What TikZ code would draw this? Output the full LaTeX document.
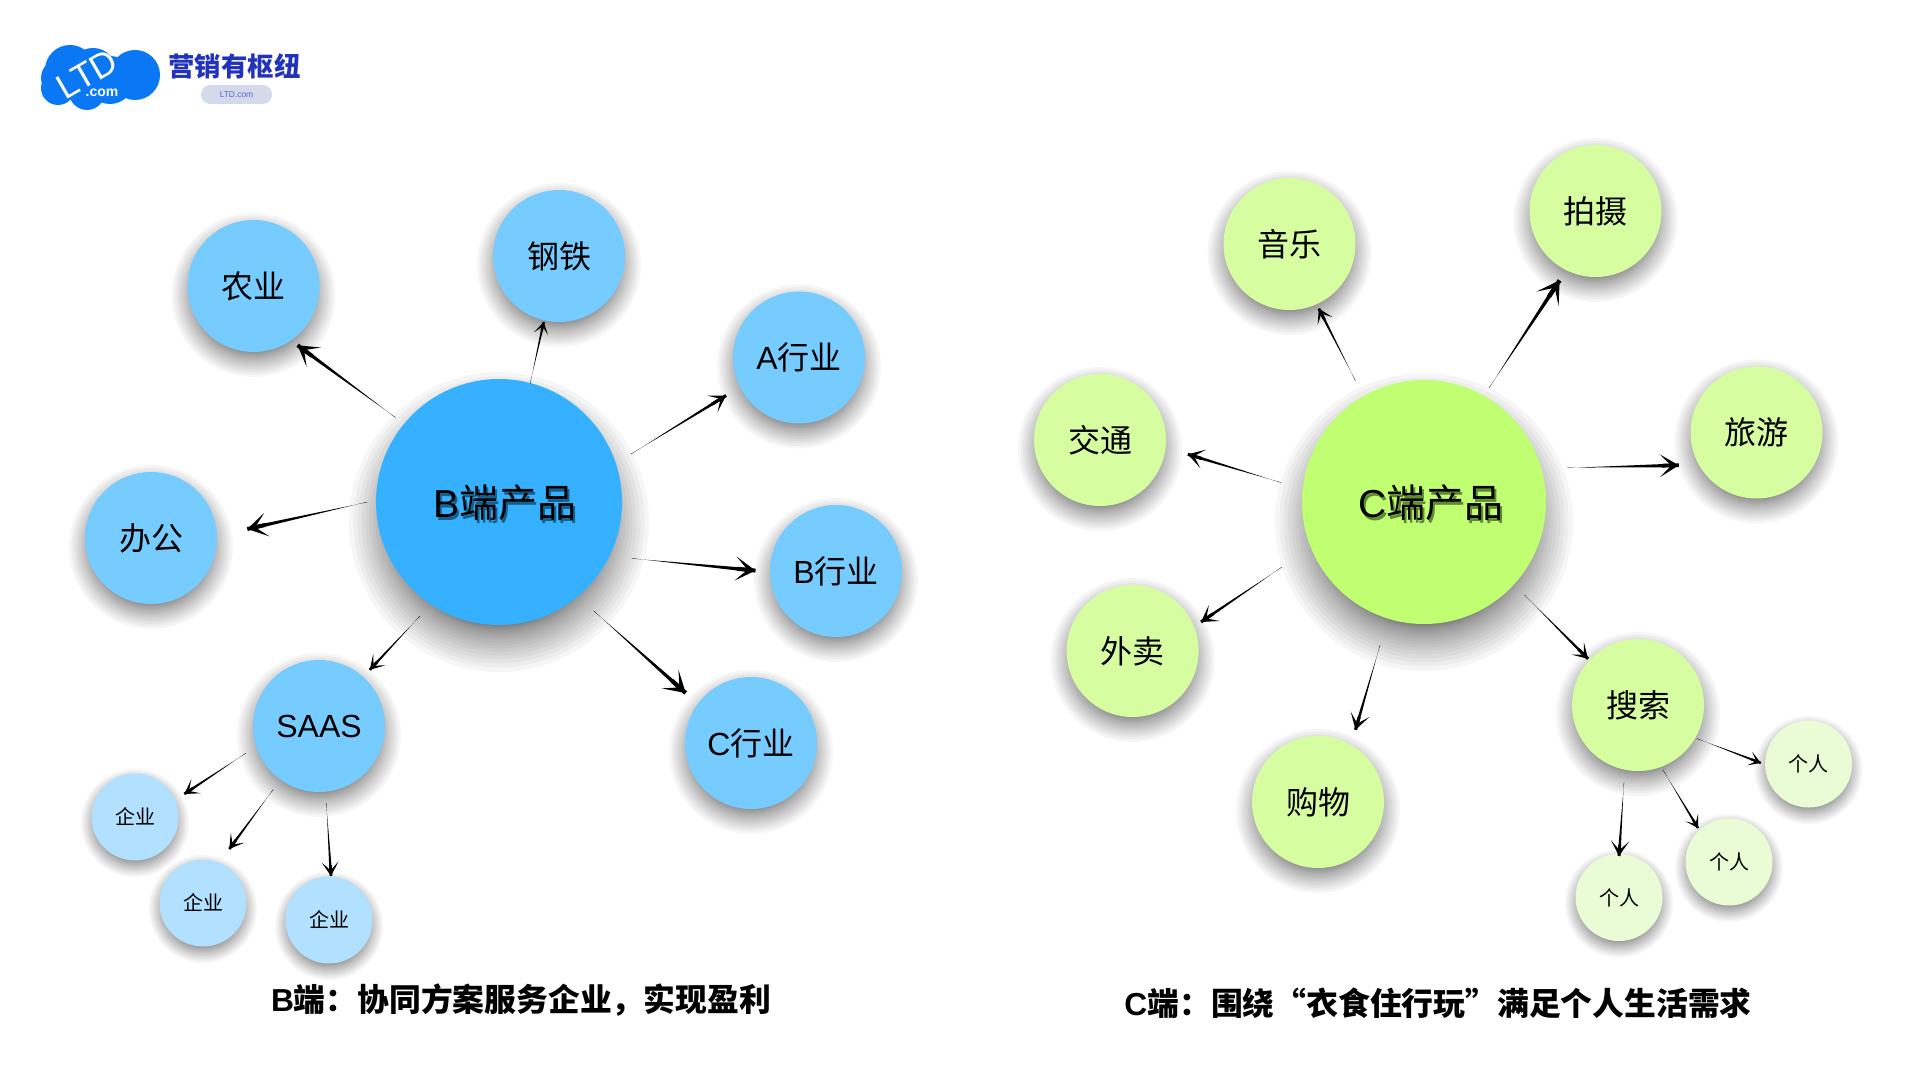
\documentclass[tikz,border=0pt]{standalone}
\usepackage{fontspec}
\setmainfont{Liberation Sans}
\newfontfamily\cjk{Noto Sans CJK SC}
\usetikzlibrary{arrows.meta,calc}
\definecolor{bmain}{HTML}{36B1FF}
\definecolor{bmid}{HTML}{76CBFF}
\definecolor{bsmall}{HTML}{B2E0FF}
\definecolor{cmain}{HTML}{C0FF72}
\definecolor{cmid}{HTML}{D6FDA0}
\definecolor{csmall}{HTML}{E9FCD5}
\definecolor{logoblue}{HTML}{0A78F5}
\definecolor{logotext}{HTML}{2233BB}
\definecolor{pill}{HTML}{D5D9EC}
\definecolor{txtshadow}{HTML}{12608F}
\definecolor{txtshadowc}{HTML}{5E8A30}
\tikzset{
  disc/.style={circle,inner sep=0pt,text=black,align=center},
  mainb/.style={disc,fill=bmain,minimum size=123pt},
  mainc/.style={disc,fill=cmain,minimum size=122pt},
  midb/.style={disc,fill=bmid,minimum size=66pt,font=\fontsize{16}{18}\selectfont},
  midc/.style={disc,fill=cmid,minimum size=66pt,font=\fontsize{16}{18}\selectfont},
  smallb/.style={disc,fill=bsmall,minimum size=43.5pt,font=\fontsize{10}{12}\selectfont},
  smallc/.style={disc,fill=csmall,minimum size=43.5pt,font=\fontsize{10}{12}\selectfont},
  caption/.style={inner sep=0pt,font=\fontsize{15.9}{18}\selectfont\bfseries},
  mainlabel/.style={inner sep=0pt,font=\fontsize{19.5}{22}\selectfont},
  tipstyle/.style={-{Stealth[length=#1*5pt,width=#1*6pt,inset=#1*3pt]}}
}
% blurred shadow under a disc: x, y, inner radius, outer radius, offset
\newcommand{\softshad}[5]{\foreach \i in {0,...,21}{\fill[black,opacity=.035] (#1,#2+#5) circle ({#3+(#4-#3)*(1-\i/21)*(1-\i/21)});}}
% tapered connector between two named coordinates
\newcommand{\conn}[3]{%
  \fill ($(#1)!0.1pt!90:(#2)$) -- ($(#2)!#3*0.5pt!90:(#1)$) -- ($(#2)!#3*0.5pt!-90:(#1)$) -- ($(#1)!0.1pt!-90:(#2)$) -- cycle;
  \draw[line width=#3*1pt,tipstyle=#3] ($(#1)!0.85!(#2)$) -- (#2);}
\begin{document}
\begin{tikzpicture}[x=0.5pt,y=-0.5pt]
\useasboundingbox (0,0) rectangle (1920,1080);
\fill[white] (0,0) rectangle (1920,1080);
% shadows
\softshad{499}{502}{102}{150}{20}
\softshad{1424}{502}{101}{149}{20}
\foreach \x/\y in {253.5/286,559/256,799/357.5,836/571,751/743,151/538,319/726,1289.5/244,1595.5/211,1756.5/432.5,1100/440,1132.6/651,1318/802,1638/705}{\softshad{\x}{\y}{54}{82}{9}}
\foreach \x/\y in {135/817,203/903,329/920,1808.6/764,1729/862,1619/897.5}{\softshad{\x}{\y}{34}{54}{6}}
% nodes
\node[mainb] (B) at (499,502) {};
\node[mainlabel,text=txtshadow] (Bs) at (507,506) {B{\cjk 端产品}};
\node[mainlabel] (Bt) at (505,503) {B{\cjk 端产品}};
\node[midb] (nong) at (253.5,286) {\cjk 农业};
\node[midb] (gang) at (559,256) {\cjk 钢铁};
\node[midb] (ah) at (799,357.5) {A{\cjk 行业}};
\node[midb] (bh) at (836,571) {B{\cjk 行业}};
\node[midb] (ch) at (751,743) {C{\cjk 行业}};
\node[midb] (ban) at (151,538) {\cjk 办公};
\node[midb] (saas) at (319,726) {SAAS};
\node[smallb] (q1) at (135,817) {\cjk 企业};
\node[smallb] (q2) at (203,903) {\cjk 企业};
\node[smallb] (q3) at (329,920) {\cjk 企业};
\node[mainc] (C) at (1424,502) {};
\node[mainlabel,text=txtshadowc] (Cs) at (1433,506) {C{\cjk 端产品}};
\node[mainlabel] (Ct) at (1431,503) {C{\cjk 端产品}};
\node[midc] (yin) at (1289.5,244) {\cjk 音乐};
\node[midc] (pai) at (1595.5,211) {\cjk 拍摄};
\node[midc] (lv) at (1756.5,432.5) {\cjk 旅游};
\node[midc] (jiao) at (1100,440) {\cjk 交通};
\node[midc] (wai) at (1132.6,651) {\cjk 外卖};
\node[midc] (gou) at (1318,802) {\cjk 购物};
\node[midc] (sou) at (1638,705) {\cjk 搜索};
\node[smallc] (g1) at (1808.6,764) {\cjk 个人};
\node[smallc] (g2) at (1729,862) {\cjk 个人};
\node[smallc] (g3) at (1619,897.5) {\cjk 个人};
% connector ends
\coordinate (a1) at (395.5,417.5); \coordinate (b1) at (297.6,345.3);
\coordinate (a2) at (530.2,383.3); \coordinate (b2) at (543.7,322);
\coordinate (a3) at (630.6,454.3); \coordinate (b3) at (726.1,395.5);
\coordinate (a4) at (631.8,558.4); \coordinate (b4) at (755.5,570.6);
\coordinate (a5) at (593.9,611);   \coordinate (b5) at (685.7,693);
\coordinate (a6) at (367.4,502);   \coordinate (b6) at (247.3,529);
\coordinate (a7) at (420,616);     \coordinate (b7) at (369.8,669.8);
\coordinate (a8) at (245.7,753.3); \coordinate (b8) at (184.3,794);
\coordinate (a9) at (273.3,789.3); \coordinate (b9) at (229.3,849);
\coordinate (a10) at (326.3,803.3);\coordinate (b10) at (331,876);
\coordinate (c1) at (1355.5,380.8);\coordinate (d1) at (1318.8,308.6);
\coordinate (c2) at (1489,388);    \coordinate (d2) at (1559.6,280.4);
\coordinate (c3) at (1567.4,467.8);\coordinate (d3) at (1678.8,465.3);
\coordinate (c4) at (1280.8,482.5);\coordinate (d4) at (1187.8,454.3);
\coordinate (c5) at (1282,567);    \coordinate (d5) at (1201,622);
\coordinate (c6) at (1380,645.3);  \coordinate (d6) at (1355.5,729.8);
\coordinate (c7) at (1524.5,595);  \coordinate (d7) at (1588,658.8);
\coordinate (c8) at (1697,738.6);  \coordinate (d8) at (1760.8,762.9);
\coordinate (c9) at (1663,770);    \coordinate (d9) at (1698,828);
\coordinate (c10) at (1624,782);   \coordinate (d10) at (1619,856);
% connectors
\conn{a1}{b1}{2.0}\conn{a2}{b2}{1.2}\conn{a3}{b3}{1.6}\conn{a4}{b4}{2.0}\conn{a5}{b5}{2.1}
\conn{a6}{b6}{2.0}\conn{a7}{b7}{1.4}\conn{a8}{b8}{1.4}\conn{a9}{b9}{1.4}\conn{a10}{b10}{1.4}
\conn{c1}{d1}{1.4}\conn{c2}{d2}{2.2}\conn{c3}{d3}{1.9}\conn{c4}{d4}{1.6}\conn{c5}{d5}{1.6}
\conn{c6}{d6}{1.6}\conn{c7}{d7}{1.5}\conn{c8}{d8}{1.2}\conn{c9}{d9}{1.2}\conn{c10}{d10}{1.5}
% captions
\node[caption] (capB) at (521,1000) {B{\cjk 端：协同方案服务企业，实现盈利}};
\node[caption] (capC) at (1438,1003) {C{\cjk 端：围绕“衣食住行玩”满足个人生活需求}};
% logo
\fill[logoblue] (70,70) circle (25) (135,75) circle (25) (58,88) circle (17) (87,92) circle (18) (110,80) circle (24) (93,72) circle (24) (60,78) circle (19);
\node[inner sep=0pt,text=white,rotate=30,font=\fontsize{17.5}{20}\selectfont] (ltd) at (87,74) {LTD};
\node[inner sep=0pt,text=white,font=\fontsize{7}{9}\selectfont\bfseries] (dotcom) at (102,93) {.com};
\node[inner sep=0pt,text=logotext,font=\fontsize{13.2}{15}\selectfont\bfseries\cjk] (brand) at (234.5,66.5) {营销有枢纽};
\node[rounded corners=4.7pt,fill=pill,minimum width=35.5pt,minimum height=9.5pt,inner sep=0pt,text=logotext!75!white,font=\fontsize{4.2}{5}\selectfont] (pillb) at (236.5,94.5) {LTD.com};
\end{tikzpicture}
\end{document}
